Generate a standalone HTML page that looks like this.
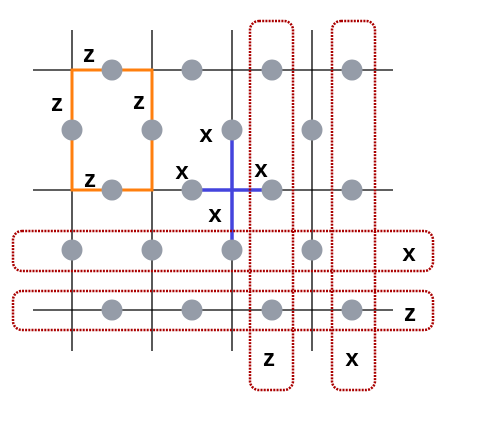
<!DOCTYPE html>
<html><head><meta charset="utf-8"><style>
html,body{margin:0;padding:0;background:#fff;}
svg{display:block;}
text{font-family:"Liberation Sans",sans-serif;font-weight:bold;font-size:24px;fill:#000;}
</style></head><body>
<svg width="503" height="432" viewBox="0 0 503 432">
<g stroke="#000" stroke-width="1.3">
<line x1="33" y1="70" x2="393" y2="70"/>
<line x1="33" y1="190" x2="393" y2="190"/>
<line x1="33" y1="310" x2="393" y2="310"/>
<line x1="72" y1="30" x2="72" y2="351"/>
<line x1="152" y1="30" x2="152" y2="351"/>
<line x1="232" y1="30" x2="232" y2="351"/>
<line x1="312" y1="30" x2="312" y2="351"/>
</g>
<rect x="72" y="70" width="80" height="120" fill="none" stroke="#ff7f0e" stroke-width="3"/>
<g stroke="#4444dd" stroke-width="3.5">
<line x1="232" y1="130" x2="232" y2="250"/>
<line x1="192" y1="190" x2="272" y2="190"/>
</g>
<g fill="none" stroke="#aa0000" stroke-width="2.5" stroke-dasharray="2 1.2">
<rect x="250" y="21" width="43" height="369" rx="9"/>
<rect x="332" y="21" width="43" height="369" rx="9"/>
<rect x="13" y="231" width="420" height="40" rx="9"/>
<rect x="13" y="291" width="420" height="39" rx="9"/>
</g>
<g fill="#959ca8">
<circle cx="112" cy="70" r="10.5"/><circle cx="192" cy="70" r="10.5"/><circle cx="272" cy="70" r="10.5"/><circle cx="352" cy="70" r="10.5"/>
<circle cx="72" cy="130" r="10.5"/><circle cx="152" cy="130" r="10.5"/><circle cx="232" cy="130" r="10.5"/><circle cx="312" cy="130" r="10.5"/>
<circle cx="112" cy="190" r="10.5"/><circle cx="192" cy="190" r="10.5"/><circle cx="272" cy="190" r="10.5"/><circle cx="352" cy="190" r="10.5"/>
<circle cx="72" cy="250" r="10.5"/><circle cx="152" cy="250" r="10.5"/><circle cx="232" cy="250" r="10.5"/><circle cx="312" cy="250" r="10.5"/>
<circle cx="112" cy="310" r="10.5"/><circle cx="192" cy="310" r="10.5"/><circle cx="272" cy="310" r="10.5"/><circle cx="352" cy="310" r="10.5"/>
</g>
<g text-anchor="middle">
<text x="89" y="62">z</text>
<text x="57" y="111">z</text>
<text x="139" y="109">z</text>
<text x="90" y="187">z</text>
<text x="206" y="142">x</text>
<text x="182" y="179">x</text>
<text x="261" y="177">x</text>
<text x="215" y="222">x</text>
<text x="409" y="261">x</text>
<text x="410" y="321">z</text>
<text x="269" y="366">z</text>
<text x="352" y="366">x</text>
</g>
</svg>
</body></html>
